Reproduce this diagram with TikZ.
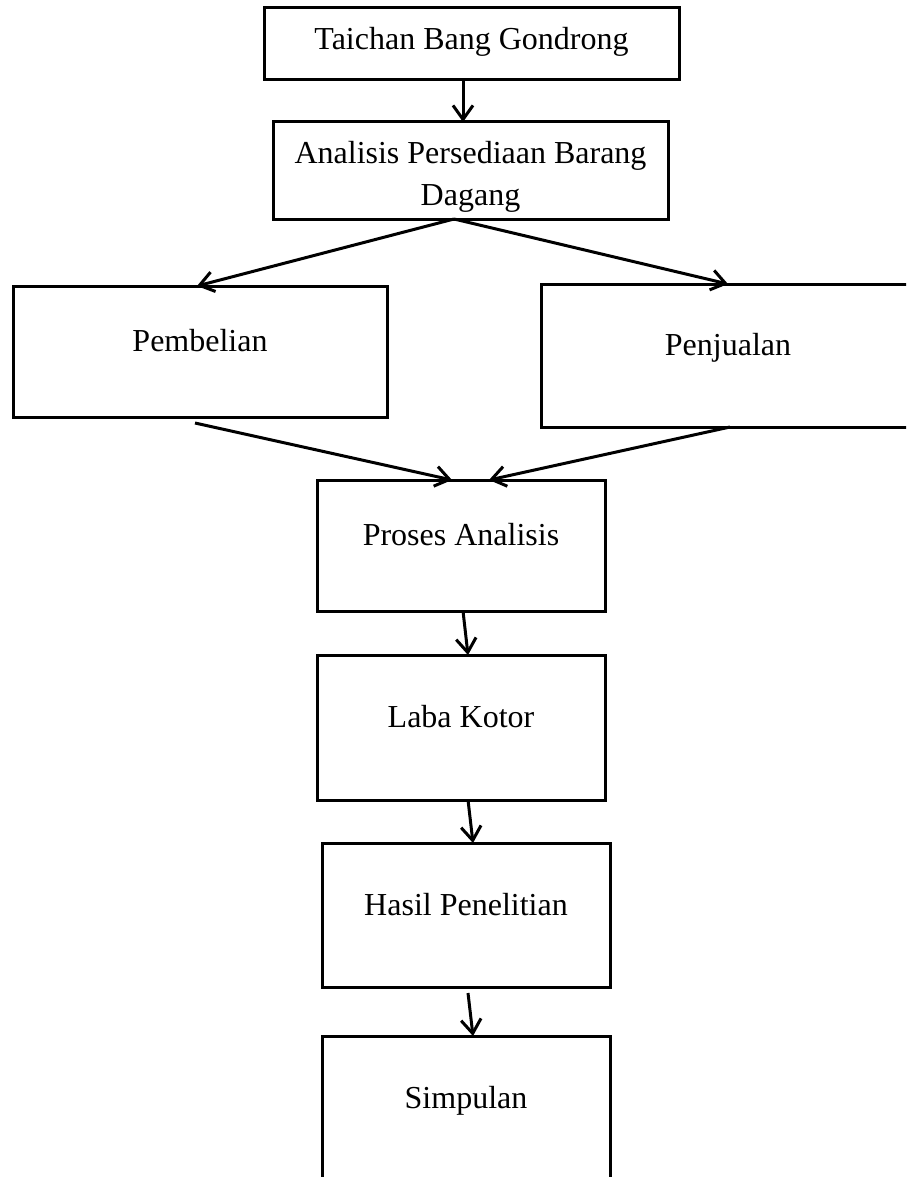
\documentclass[tikz,border=0pt]{standalone}
\usepackage{fontspec}
\setmainfont{Liberation Serif}
\usetikzlibrary{arrows.meta}
\begin{document}
\begin{tikzpicture}[x=1pt,y=-1pt,
  box/.style={draw=black, line width=3pt, inner sep=0pt, outer sep=0pt,
    font=\fontsize{32}{42}\selectfont, text height=10pt, text depth=10pt},
  conn/.style={line width=3pt, -{Straight Barb[length=14pt,width=20pt,line width=3pt]}}]
\useasboundingbox (0,0) rectangle (906,1177);
\clip (0,0) rectangle (906,1177);
\node[box, minimum width=415pt, minimum height=72pt, text height=22pt, text depth=10pt] (b1) at (471.5,44) {Taichan Bang Gondrong};
\node[box, minimum width=395pt, minimum height=97pt, text height=, text depth=, align=center] (b2) at (470.5,170.5) {\rule{0pt}{34pt}Analisis Persediaan Barang\\Dagang};
\node[box, minimum width=374pt, minimum height=131pt] (b3) at (200,351.5) {Pembelian};
\node[box, minimum width=374pt, minimum height=143pt] (b4) at (728,355.5) {Penjualan};
\node[box, minimum width=288pt, minimum height=131pt] (b5) at (461,545.5) {Proses Analisis};
\node[box, minimum width=288pt, minimum height=145pt] (b6) at (461,727.5) {Laba Kotor};
\node[box, minimum width=288pt, minimum height=144pt] (b7) at (466,915) {Hasil Penelitian};
\node[box, minimum width=288pt, minimum height=144pt] (b8) at (466,1108) {Simpulan};
\draw[conn] ([xshift=-8.5pt]b1.south) -- ([xshift=-7.5pt]b2.north);
\draw[conn] ([xshift=-16.5pt]b2.south) -- ([xshift=-3pt]b3.north);
\draw[conn] ([xshift=-16.5pt]b2.south) -- (b4.north);
\draw[conn] ([xshift=-5pt,yshift=-6pt]b3.south) -- ([xshift=-9pt]b5.north);
\draw[conn] ([xshift=2pt]b4.south) -- ([xshift=28pt]b5.north);
\draw[conn] ([xshift=2pt]b5.south) -- ([xshift=7pt]b6.north);
\draw[conn] ([xshift=7pt]b6.south) -- ([xshift=7pt]b7.north);
\draw[conn] ([xshift=2pt,yshift=-6pt]b7.south) -- ([xshift=7pt]b8.north);
\end{tikzpicture}
\end{document}
